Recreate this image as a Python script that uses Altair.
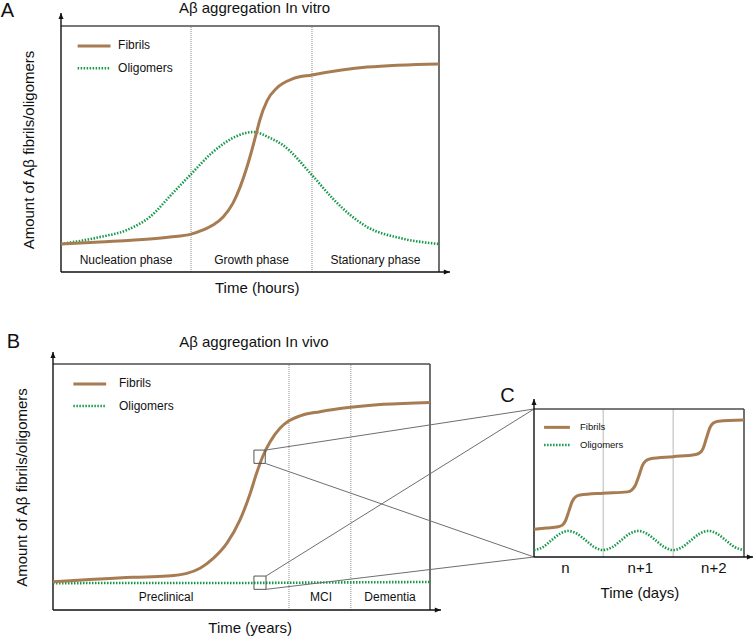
import altair as alt
import pandas as pd

FONT = "Liberation Sans"
BROWN = "#A87C52"
GREEN = "#17994A"
INK = "#111111"
FRAME = "#4d4d4d"
DOTGREY = "#8c8c8c"

# ---------------- data (relative units: time 0-100 across a panel, amount 0-100) ----------------
# Panel A : in vitro
a_fib_t = [0, 10.3, 23.5, 28.8, 34.4, 37.6, 40.2, 42.9, 45.5, 47.4, 49.2, 50.5, 51.9, 52.6, 54.5, 57.1, 61.4, 66.4, 81.0, 100]
a_fib_v = [11.4, 12.2, 13.4, 14.2, 15.4, 17.1, 19.1, 22.4, 28.0, 34.6, 42.7, 49.6, 57.7, 61.8, 69.6, 74.8, 78.6, 80.1, 83.3, 84.6]
a_olig_t = [0, 10.3, 17.5, 23.5, 29.6, 34.4, 40.2, 46.6, 50.8, 55.3, 58.7, 66.4, 72.0, 76.5, 81.0, 89.7, 100]
a_olig_v = [11.4, 14.2, 17.1, 22.4, 32.1, 39.8, 48.8, 55.3, 56.9, 54.5, 51.6, 39.4, 29.7, 23.2, 18.3, 13.8, 11.4]
a_phase_bounds = [34.4, 66.4]
a_phase_names = ["Nucleation phase", "Growth phase", "Stationary phase"]
a_phase_x = [17.2, 50.4, 83.2]

# Panel B : in vivo
b_fib_t = [0, 21.3, 30.2, 35.5, 39.0, 42.5, 46.1, 49.6, 52.3, 54.0, 55.8, 57.6, 60.2, 62.5, 65.5, 70.8, 79.0, 87.6, 100]
b_fib_v = [11.5, 13.3, 13.8, 14.9, 17.0, 21.0, 27.1, 36.6, 47.4, 55.6, 63.0, 68.4, 73.9, 76.8, 78.9, 80.6, 82.4, 83.6, 84.4]
b_olig_t = [0, 25, 50, 75, 100]
b_olig_v = [10.9, 11.0, 11.0, 11.2, 11.4]
b_phase_bounds = [62.6, 79.0]
b_phase_names = ["Preclinical", "MCI", "Dementia"]
b_phase_x = [30.0, 71.1, 89.4]
# zoom windows on panel B (x0, x1, y0, y1)
b_zoom_x0 = [53.3, 53.3]
b_zoom_x1 = [56.3, 56.5]
b_zoom_y0 = [59.6, 8.4]
b_zoom_y1 = [65.0, 13.8]

# Panel C : daily detail
c_fib_t = [0, 6, 11.5, 13.5, 15.0, 16.6, 18.2, 19.8, 22.0, 33.0, 44.5, 46.5, 48.2, 50.0, 51.6, 53.2, 55.5,
           66.2, 77.0, 79.0, 80.6, 82.2, 83.8, 85.4, 87.8, 100]
c_fib_v = [18.7, 19.6, 20.4, 21.5, 24.5, 31.0, 37.5, 40.6, 41.9, 43.1, 44.0, 45.2, 48.3, 55.0, 61.8, 65.0, 66.4,
           67.8, 69.3, 70.4, 73.6, 80.7, 87.5, 90.6, 91.8, 92.6]
c_olig_t = [0, 4.2, 8.2, 12.3, 16.3, 20.5, 24.7, 28.8, 33.0, 37.2, 41.4, 45.5, 49.7, 53.8, 58.0, 62.2,
            66.3, 70.5, 74.7, 78.8, 83.0, 87.2, 91.4, 95.7, 100]
c_olig_v = [4.7, 6.6, 11.2, 15.7, 17.6, 15.7, 11.2, 6.6, 4.7, 6.6, 11.2, 15.7, 17.6, 15.7, 11.2, 6.6,
            4.7, 6.6, 11.2, 15.7, 17.6, 15.7, 11.2, 6.6, 4.7]
c_day_bounds = [33.0, 66.3]
c_day_labels = ["n", "n+1", "n+2"]
c_day_x = [15.0, 50.6, 85.6]

# ---------------- layout (pixel ranges of each plot area) ----------------
A_X, A_Y = [61, 439], [272, 26]
B_X, B_Y = [53, 430], [610, 364]
C_X, C_Y = [534, 744], [557, 409]

UP = "M0,0L0.42,1L-0.42,1Z"
RIGHT = "M0,0L-1,0.42L-1,-0.42Z"


def sc(rng):
    return alt.Scale(domain=[0, 100], range=rng, nice=False, zero=False)


def enc_xy(xr, yr, xf="x", yf="y"):
    return dict(x=alt.X(f"{xf}:Q", scale=sc(xr), axis=None),
                y=alt.Y(f"{yf}:Q", scale=sc(yr), axis=None))


def line_layer(t, v, xr, yr, color, width, dash=None):
    kw = dict(color=color, strokeWidth=width, interpolate="monotone")
    if dash:
        kw["strokeDash"] = dash
    return alt.Chart(pd.DataFrame({"x": t, "y": v})).mark_line(**kw).encode(**enc_xy(xr, yr))


def seg_layer(x, y, x2, y2, xr, yr, **style):
    df = pd.DataFrame({"x": x, "y": y, "x2": x2, "y2": y2})
    return alt.Chart(df).mark_rule(**style).encode(**enc_xy(xr, yr), x2="x2:Q", y2="y2:Q")


def text_layer(x, y, labels, xr, yr, size, align="center", angle=0, color=INK):
    kw = dict(font=FONT, fontSize=size, color=color, align=align, baseline="alphabetic")
    if angle:
        kw["angle"] = angle
    df = pd.DataFrame({"x": x, "y": y, "label": labels})
    return alt.Chart(df).mark_text(**kw).encode(**enc_xy(xr, yr), text="label:N")


def arrow_layer(x, y, shape, xr, yr, size=150):
    df = pd.DataFrame({"x": x, "y": y})
    return alt.Chart(df).mark_point(shape=shape, filled=True, size=size, color=INK,
                                    opacity=1, strokeWidth=0).encode(**enc_xy(xr, yr))


def frame_layers(xr, yr, ytip, xtip):
    return [
        seg_layer([0, 100], [100, 0], [100, 100], [100, 100], xr, yr, color=FRAME, strokeWidth=1.6),
        seg_layer([0, 0], [0, 0], [0, xtip], [ytip, 0], xr, yr, color=INK, strokeWidth=1.4),
        arrow_layer([0], [ytip], UP, xr, yr),
        arrow_layer([xtip], [0], RIGHT, xr, yr),
    ]


def legend_layers(x0, x1, y_f, y_o, tx, ty_f, ty_o, xr, yr, size, lw):
    return [
        seg_layer([x0], [y_f], [x1], [y_f], xr, yr, color=BROWN, strokeWidth=lw),
        seg_layer([x0], [y_o], [x1], [y_o], xr, yr, color=GREEN, strokeWidth=lw - 0.4, strokeDash=[1.5, 1.5]),
        text_layer([tx, tx], [ty_f, ty_o], ["Fibrils", "Oligomers"], xr, yr, size, align="left"),
    ]


# ---------------- Panel A ----------------
pa = alt.layer(
    seg_layer(a_phase_bounds, [0, 0], a_phase_bounds, [100, 100], A_X, A_Y,
              color=DOTGREY, strokeWidth=1, strokeDash=[1, 1]),
    *frame_layers(A_X, A_Y, 105.3, 102.9),
    line_layer(a_olig_t, a_olig_v, A_X, A_Y, GREEN, 2.6, [1.5, 1.5]),
    line_layer(a_fib_t, a_fib_v, A_X, A_Y, BROWN, 3),
    *legend_layers(4.4, 13.1, 91.9, 82.8, 15.1, 90.7, 81.4, A_X, A_Y, 12, 3),
    text_layer(a_phase_x, [3.1] * 3, a_phase_names, A_X, A_Y, 12),
    text_layer([51.2], [105.4], ["Aβ aggregation In vitro"], A_X, A_Y, 15),
    text_layer([51.9], [-8.7], ["Time (hours)"], A_X, A_Y, 15),
    text_layer([-7.2], [49.6], ["Amount of Aβ fibrils/oligomers"], A_X, A_Y, 15, angle=270),
    text_layer([-14.2], [103.5], ["A"], A_X, A_Y, 20),
)

# ---------------- Panel B ----------------
to_bx = lambda px: (px - B_X[0]) / (B_X[1] - B_X[0]) * 100
to_by = lambda py: (py - B_Y[0]) / (B_Y[1] - B_Y[0]) * 100
c_left = to_bx(C_X[0])
c_top = to_by(C_Y[1])
c_bot = to_by(C_Y[0])

zoom_rect = alt.Chart(pd.DataFrame({"x": b_zoom_x0, "x2": b_zoom_x1, "y": b_zoom_y0, "y2": b_zoom_y1})).mark_rect(
    fillOpacity=0, stroke="#555555", strokeWidth=1).encode(**enc_xy(B_X, B_Y), x2="x2:Q", y2="y2:Q")

pb = alt.layer(
    seg_layer(b_phase_bounds, [0, 0], b_phase_bounds, [100, 100], B_X, B_Y,
              color=DOTGREY, strokeWidth=1, strokeDash=[1, 1]),
    *frame_layers(B_X, B_Y, 104.9, 102.9),
    line_layer(b_olig_t, b_olig_v, B_X, B_Y, GREEN, 2.6, [1.5, 1.5]),
    line_layer(b_fib_t, b_fib_v, B_X, B_Y, BROWN, 3),
    zoom_rect,
    seg_layer([b_zoom_x1[0], b_zoom_x1[0], b_zoom_x1[1], b_zoom_x1[1]],
              [b_zoom_y1[0], b_zoom_y0[0], b_zoom_y1[1], b_zoom_y0[1]],
              [c_left] * 4, [c_top, c_bot, c_top, c_bot], B_X, B_Y, color="#6e6e6e", strokeWidth=1),
    *legend_layers(5.4, 14.1, 91.9, 82.9, 17.5, 90.5, 81.3, B_X, B_Y, 12, 3),
    text_layer(b_phase_x, [3.5] * 3, b_phase_names, B_X, B_Y, 12),
    text_layer([53.3], [107.0], ["Aβ aggregation In vivo"], B_X, B_Y, 15),
    text_layer([52.3], [-9.3], ["Time (years)"], B_X, B_Y, 15),
    text_layer([-6.8], [49.8], ["Amount of Aβ fibrils/oligomers"], B_X, B_Y, 15, angle=270),
    text_layer([-10.5], [106.5], ["B"], B_X, B_Y, 20),
)

# ---------------- Panel C ----------------
pc = alt.layer(
    seg_layer(c_day_bounds, [0, 0], c_day_bounds, [100, 100], C_X, C_Y, color="#cfcfcf", strokeWidth=1.5),
    *frame_layers(C_X, C_Y, 106.8, 104.3),
    line_layer(c_olig_t, c_olig_v, C_X, C_Y, GREEN, 2.6, [1.5, 1.5]),
    line_layer(c_fib_t, c_fib_v, C_X, C_Y, BROWN, 3),
    *legend_layers(4.8, 17.1, 87.6, 75.7, 21.9, 85.8, 73.4, C_X, C_Y, 9.5, 3),
    text_layer(c_day_x, [-11.0] * 3, c_day_labels, C_X, C_Y, 15),
    text_layer([50.4], [-27.9], ["Time (days)"], C_X, C_Y, 15),
    text_layer([-12.6], [104.9], ["C"], C_X, C_Y, 20),
)

chart = alt.layer(pa, pb, pc).resolve_scale(x="independent", y="independent").properties(
    width=756, height=638, padding=0, autosize="none", background="white"
).configure_view(stroke=None)

chart.save("out.html", embed_options={"renderer": "svg", "actions": False})
